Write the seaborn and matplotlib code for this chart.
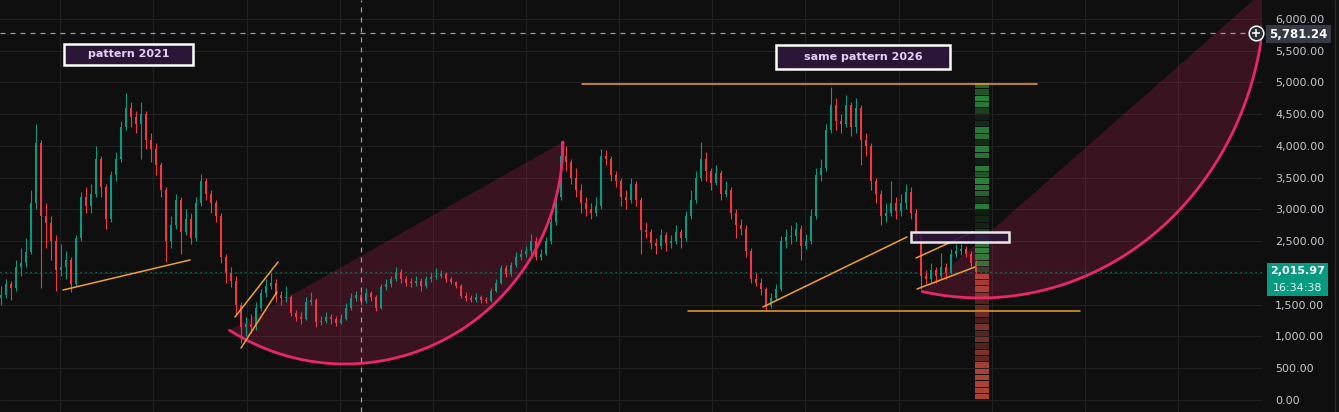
import numpy as np
import pandas as pd
import matplotlib
matplotlib.use("Agg")
import matplotlib.pyplot as plt
import seaborn as sns
from matplotlib.patches import Rectangle, Polygon

# ---------------- data ----------------
closes = [1650, 1830, 1760, 2100, 2150, 2330, 3100, 4050, 2900, 2780,
          2500, 2050, 2100, 2200, 1820, 2550, 3200, 3050, 3250, 3800,
          3350, 2850, 3550, 3800, 4300, 4600, 4450, 4350, 4500, 4100,
          3950, 3700, 3300, 2500, 2750, 3150, 2650, 2850, 2550, 3100,
          3450, 3250, 3100, 2900, 2250, 2000, 1880, 1500, 1150, 1200,
          1150, 1450, 1680, 1800, 1850, 1650, 1600, 1620, 1370, 1300,
          1280, 1550, 1580, 1230, 1250, 1300, 1270, 1220, 1280, 1450,
          1600, 1650, 1560, 1680, 1620, 1450, 1780, 1820, 1900, 2020,
          1900, 1850, 1840, 1880, 1800, 1900, 1930, 1960, 1980, 1900,
          1860, 1800, 1640, 1600, 1580, 1620, 1580, 1560, 1720, 1840,
          2080, 1980, 2120, 2250, 2300, 2350, 2500, 2250, 2300, 2500,
          2800, 3200, 3850, 3750, 3500, 3300, 3100, 3000, 2950, 3050,
          3850, 3800, 3550, 3450, 3200, 3150, 3400, 3150, 2680, 2650,
          2480, 2420, 2600, 2480, 2500, 2650, 2550, 2900, 3150, 3500,
          3800, 3600, 3420, 3580, 3250, 3300, 2950, 2750, 2700, 2350,
          1900, 1850, 1750, 1480, 1600, 1750, 2500, 2560, 2580, 2700,
          2420, 2500, 2900, 3550, 3650, 4250, 4650, 4400, 4350, 4650,
          4300, 4600, 4100, 4000, 3450, 3250, 2900, 2950, 3100, 2980,
          3100, 3280, 2950, 2600, 1950, 1900, 2050, 1950, 2100, 2000,
          2300, 2350, 2380, 2300, 2150, 2016]
highs = [1800, 1900, 1880, 2200, 2400, 2550, 3300, 4350, 4100, 3100,
         2900, 2600, 2450, 2350, 2250, 2600, 3280, 3350, 3400, 4000,
         3850, 3400, 3600, 3900, 4400, 4830, 4700, 4550, 4700, 4550,
         4200, 4050, 3750, 3350, 2900, 3250, 3200, 3000, 2950, 3200,
         3560, 3500, 3300, 3150, 2950, 2300, 2100, 1950, 1550, 1300,
         1350, 1550, 1750, 1900, 2000, 1900, 1720, 1800, 1650, 1420,
         1380, 1620, 1700, 1600, 1330, 1380, 1350, 1320, 1350, 1520,
         1680, 1720, 1700, 1760, 1720, 1650, 1830, 1900, 1960, 2100,
         2060, 1960, 1920, 1960, 1920, 1960, 2000, 2080, 2040, 2010,
         1940, 1880, 1820, 1700, 1660, 1680, 1660, 1620, 1760, 1900,
         2120, 2120, 2180, 2330, 2380, 2420, 2620, 2560, 2380, 2560,
         2900, 3300, 4080, 4000, 3800, 3650, 3400, 3200, 3100, 3200,
         3950, 3930, 3850, 3600, 3500, 3300, 3500, 3450, 3200, 2800,
         2700, 2550, 2700, 2640, 2600, 2750, 2700, 2980, 3300, 3600,
         4060, 3900, 3650, 3700, 3620, 3450, 3350, 3000, 2850, 2750,
         2400, 2000, 1920, 1780, 1680, 1820, 2580, 2700, 2750, 2800,
         2750, 2620, 3000, 3650, 3800, 4350, 4930, 4750, 4500, 4800,
         4700, 4760, 4650, 4200, 4050, 3500, 3300, 3100, 3450, 3200,
         3250, 3400, 3350, 3000, 2650, 2050, 2150, 2100, 2320, 2150,
         2380, 2450, 2450, 2420, 2350, 2200]
lows = [1500, 1600, 1580, 1720, 1950, 2100, 2300, 3000, 1760, 2400,
        2200, 1720, 1950, 1900, 1700, 1800, 2500, 2950, 2950, 3200,
        3200, 2700, 2800, 3450, 3750, 4250, 4300, 4200, 3800, 3950,
        3750, 3550, 3200, 2170, 2400, 2700, 2300, 2600, 2450, 2500,
        3050, 3150, 2950, 2800, 2150, 1850, 1780, 1350, 900, 1000,
        1050, 1100, 1400, 1620, 1750, 1550, 1500, 1550, 1320, 1250,
        1200, 1260, 1500, 1150, 1180, 1220, 1200, 1160, 1190, 1260,
        1420, 1560, 1500, 1530, 1560, 1400, 1430, 1740, 1780, 1870,
        1850, 1800, 1780, 1800, 1720, 1770, 1860, 1900, 1920, 1860,
        1820, 1760, 1600, 1560, 1540, 1550, 1530, 1520, 1540, 1700,
        1820, 1940, 1950, 2100, 2200, 2250, 2300, 2200, 2200, 2280,
        2450, 2750, 3150, 3600, 3400, 3200, 2950, 2900, 2850, 2900,
        3000, 3700, 3450, 3350, 3050, 3000, 3100, 3050, 2300, 2550,
        2380, 2300, 2380, 2350, 2400, 2450, 2400, 2500, 2850, 3100,
        3450, 3450, 3300, 3380, 3150, 3200, 2850, 2550, 2600, 2250,
        1850, 1800, 1650, 1400, 1450, 1580, 1720, 2400, 2450, 2500,
        2200, 2380, 2450, 2850, 3450, 3600, 4200, 4250, 4200, 4300,
        4150, 4200, 3700, 3850, 3300, 3100, 2750, 2800, 2900, 2850,
        2900, 3000, 2850, 2500, 1750, 1820, 1850, 1850, 1900, 1900,
        1980, 2250, 2280, 2250, 2100, 1980]
first_open = 1600

price_ticks = list(range(0, 6001, 500))
last_price = 2015.97
countdown = "16:34:38"
crosshair_price = 5781.24
crosshair_bar = 72

# volume profile rows (100-wide price rows starting at 0) and their strength
profile_prices = list(range(0, 5000, 100))
profile_strength = [0.85, 0.85, 0.85, 0.85, 0.85, 0.8, 0.45, 0.6, 0.35, 0.55,
                    0.4, 0.6, 0.3, 0.5, 0.45, 0.35, 0.55, 0.8, 0.75, 0.85,
                    0.35, 0.7, 0.75, 0.8, 0.65, 0.8, 0.3, 0.15, 0.15, 0.1,
                    0.75, 0.2, 0.6, 0.75, 0.8, 0.5, 0.75, 0.1, 0.7, 0.75,
                    0.2, 0.7, 0.75, 0.2, 0.1, 0.35, 0.75, 0.8, 0.5, 0.6]

# drawing-tool anchors (bar index, price)
orange_lines = [
    ((12.4, 1732), (37.8, 2205)),
    ((46.8, 1307), (55.4, 2173)),
    ((48.0, 819), (55.2, 1701)),
    ((116.2, 4976), (207.2, 4976)),
    ((137.4, 1402), (215.8, 1402)),
    ((152.4, 1465), (181.2, 2567)),
    ((183.0, 2236), (194.4, 2646)),
    ((183.2, 1748), (194.8, 2094)),
]
# arcs: centre bar, centre price, x radius (bars), y radius (price), start angle, end angle
arcs = [
    (68.8, 4063, 43.6, 3496, -122, 0),
    (195.8, 6457, 57.0, 4850, -101.7, 0),
]
labels = [("pattern 2021", 12.6, 38.4, 5276, 5606),
          ("same pattern 2026", 155.0, 189.8, 5213, 5591)]
zone_box = (182.0, 201.6, 2488, 2646)

# ---------------- style ----------------
BG = "#0f0f0f"
GRID = "#212121"
UP, DOWN = "#089981", "#f23645"
ORANGE = "#f0a030"
PINK = "#e8266a"

sns.set_theme(style="dark", rc={"axes.facecolor": BG, "figure.facecolor": BG})
plt.rcParams["font.family"] = ["DejaVu Sans"]

W, H = 1339, 412
fig = plt.figure(figsize=(W / 100, H / 100), dpi=100)
ax = fig.add_axes([0, 0, 1262 / W, 1])
ax.set_facecolor(BG)

df = pd.DataFrame({"close": closes, "high": highs, "low": lows})
df["open"] = [first_open] + closes[:-1]
df["bar"] = np.arange(len(df))
df["up"] = df["close"] >= df["open"]

ax.set_xlim(-0.2, 252.2)
ax.set_ylim(-189, 6299)

# grid; the 2,000.00 label is hidden behind the last-price tag, as in the reference
ax.set_yticks(price_ticks)
ax.set_yticklabels(["" if v == 2000 else f"{v:,.2f}" for v in price_ticks])
ax.yaxis.tick_right()
ax.tick_params(axis="y", length=0, pad=9.4, labelsize=8, labelcolor="#c4c7ce")
ax.set_xticks([(px - 1) / 5 for px in [60, 153, 247, 340, 433, 526, 619, 712, 805, 899, 992, 1085, 1178]])
ax.tick_params(axis="x", length=0, labelbottom=False)
ax.grid(True, color=GRID, lw=0.8)
sns.despine(ax=ax, left=True, bottom=True, right=True, top=True)

# arcs (fill between chord and arc, then arc line)
for cx, cp, rx, ry, t0, t1 in arcs:
    t = np.radians(np.linspace(t0, t1, 200))
    xs = cx + rx * np.cos(t)
    ps = cp + ry * np.sin(t)
    ax.add_patch(Polygon(np.column_stack([xs, ps]), closed=True, facecolor=PINK,
                         alpha=0.2, edgecolor="none", zorder=1))
    ax.plot(xs, ps, color=PINK, lw=2.0, zorder=4, solid_capstyle="round", clip_on=True)

# candles
colors = np.where(df["up"], UP, DOWN)
ax.vlines(df["bar"], df["low"], df["high"], colors=colors, lw=0.8, zorder=3)
body_lo = df[["open", "close"]].min(axis=1)
body_h = (df["close"] - df["open"]).abs().clip(lower=15)
ax.bar(df["bar"], body_h, bottom=body_lo, width=0.55, color=colors, linewidth=0, zorder=3)

# current price dotted line
ax.axhline(last_price, color=UP, lw=0.9, ls=(0, (1, 3)), alpha=0.8, zorder=2)

# volume profile
for p, s in zip(profile_prices, profile_strength):
    col = "#2f9e44" if p + 50 > last_price else "#c84a3c"
    ax.add_patch(Rectangle((194.8, p + 8), 2.8, 84, facecolor=col, alpha=s,
                           edgecolor="none", zorder=5))

# orange trend lines
for (x0, y0), (x1, y1) in orange_lines:
    ax.plot([x0, x1], [y0, y1], color=ORANGE, lw=1.1, zorder=6)

# zone box
zx0, zx1, zy0, zy1 = zone_box
ax.add_patch(Rectangle((zx0, zy0), zx1 - zx0, zy1 - zy0, facecolor="#2c1638",
                       alpha=0.9, edgecolor="white", lw=1.8, zorder=7))

# pattern labels
for txt, x0, x1, y0, y1 in labels:
    ax.add_patch(Rectangle((x0, y0), x1 - x0, y1 - y0, facecolor="#2c1638",
                           edgecolor="white", lw=1.8, zorder=7))
    ax.text((x0 + x1) / 2, (y0 + y1) / 2, txt, color="#e2d2f0", fontsize=8,
            ha="center", va="center", zorder=8, fontweight="bold")

# crosshair
ax.axvline(crosshair_bar, color="#9a9ca3", lw=0.9, ls=(0, (4, 4)), zorder=9)
ax.plot([-0.2, 249.6], [crosshair_price, crosshair_price], color="#9a9ca3",
        lw=0.9, ls=(0, (4, 4)), zorder=9)
ax.plot([251], [crosshair_price], marker="o", ms=10.5, mfc="#2a2e39", mec="white",
        mew=1.1, zorder=10, clip_on=False)
ax.plot([251], [crosshair_price], marker="+", ms=6, color="white", mew=1.1,
        zorder=11, clip_on=False)

# right-side labels (figure pixel coordinates)
def fig_rect(x0, y0, x1, y1, color):
    fig.add_artist(Rectangle((x0 / W, 1 - y1 / H), (x1 - x0) / W, (y1 - y0) / H,
                             transform=fig.transFigure, facecolor=color,
                             edgecolor="none", zorder=20))

fig_rect(1266, 25, 1331, 43, "#363a45")
fig.text(1298 / W, 1 - 34.5 / H, f"{crosshair_price:,.2f}", color="white",
         fontsize=8.5, fontweight="bold", ha="center", va="center", zorder=21)
fig_rect(1267, 263, 1328, 296, "#089981")
fig.text(1297.5 / W, 1 - 270.5 / H, f"{last_price:,.2f}", color="white",
         fontsize=8, fontweight="bold", ha="center", va="center", zorder=21)
fig.text(1297.5 / W, 1 - 288 / H, countdown, color="#e4f4f0",
         fontsize=8, ha="center", va="center", zorder=21)
fig.add_artist(plt.Line2D([1335 / W, 1335 / W], [0, 1], color="#2a2a2a", lw=1,
                          transform=fig.transFigure))

fig.savefig("out.png", dpi=100, facecolor=BG)
